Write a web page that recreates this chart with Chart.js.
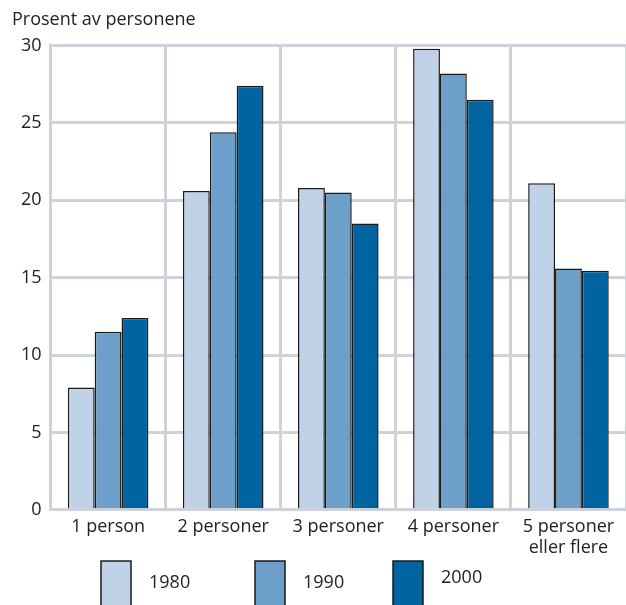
<!DOCTYPE html>
<html>
<head>
<meta charset="utf-8">
<script src="https://cdn.jsdelivr.net/npm/chart.js@4"></script>
<style>
  html, body { margin: 0; padding: 0; background: #fff; }
  #wrap { width: 626px; height: 605px; }
</style>
</head>
<body>
<div id="wrap"><canvas id="myChart" width="626" height="605"></canvas></div>
<script>
const categories = ['1 person', '2 personer', '3 personer', '4 personer', ['5 personer', 'eller flere']];
const years = ['1980', '1990', '2000'];
const values1980 = [7.9, 20.6, 20.8, 29.8, 21.1];
const values1990 = [11.5, 24.4, 20.5, 28.2, 15.6];
const values2000 = [12.4, 27.4, 18.5, 26.5, 15.45];
const yTicks = [0, 5, 10, 15, 20, 25, 30];

const colors = ['#c0d2e8', '#6d9fcb', '#0064a1'];
const gridColor = '#cfd2da';

// legend drawn by hand, under the axis labels
const boxLegend = {
   id: 'boxLegend',
   afterDraw(chart, args, opts) {
      const ctx = chart.ctx;
      const top = chart.height - opts.boxHeight;
      ctx.save();
      ctx.font = '18px "Open Sans", sans-serif';
      ctx.textBaseline = 'middle';
      chart.data.datasets.forEach((ds, i) => {
         const x = opts.xs[i];
         ctx.fillStyle = ds.backgroundColor;
         ctx.fillRect(x, top, opts.boxWidth, opts.boxHeight + 2);
         ctx.strokeStyle = '#1a1a1a';
         ctx.lineWidth = 1.5;
         ctx.strokeRect(x, top, opts.boxWidth, opts.boxHeight + 2);
         ctx.fillStyle = '#222';
         ctx.fillText(ds.label, x + opts.boxWidth + 18, top + opts.boxHeight / 2 - (i === 2 ? 5 : 0));
      });
      ctx.restore();
   }
};

var ctx = document.getElementById('myChart');
var myChart = new Chart(ctx, {
   type: 'bar',
   data: {
      labels: categories,
      datasets: [values1980, values1990, values2000].map((vals, i) => ({
         label: years[i],
         data: vals,
         backgroundColor: colors[i],
         borderColor: '#1a1a1a',
         borderWidth: 1.5,
         borderSkipped: 'bottom',
         categoryPercentage: 0.7,
         barPercentage: 1.0,
      })),
   },
   plugins: [boxLegend],
   options: {
      responsive: false,
      animation: false,
      layout: {
         padding: { left: 12, right: 0, top: 0, bottom: 40 }
      },
      plugins: {
         legend: { display: false },
         tooltip: { enabled: false },
         title: {
            display: true,
            text: 'Prosent av personene',
            align: 'start',
            color: '#222',
            font: { family: '"Open Sans", sans-serif', size: 18, weight: 'normal' },
            padding: { top: 9, bottom: 15 }
         },
         boxLegend: { xs: [101, 255, 393], boxWidth: 30, boxHeight: 44 }
      },
      scales: {
         x: {
            grid: { color: gridColor, lineWidth: 3, drawTicks: false, offset: true },
            border: { color: gridColor, width: 3 },
            ticks: {
               color: '#222',
               padding: 6,
               maxRotation: 0,
               font: { family: '"Open Sans", sans-serif', size: 18 }
            }
         },
         y: {
            min: 0,
            max: 30,
            afterBuildTicks(axis) {
               axis.ticks = yTicks.map(v => ({ value: v }));
            },
            grid: { color: gridColor, lineWidth: 3, drawTicks: false },
            border: { color: gridColor, width: 3 },
            ticks: {
               color: '#222',
               padding: 9,
               font: { family: '"Open Sans", sans-serif', size: 18 }
            }
         }
      }
   },
});
</script>
</body>
</html>
